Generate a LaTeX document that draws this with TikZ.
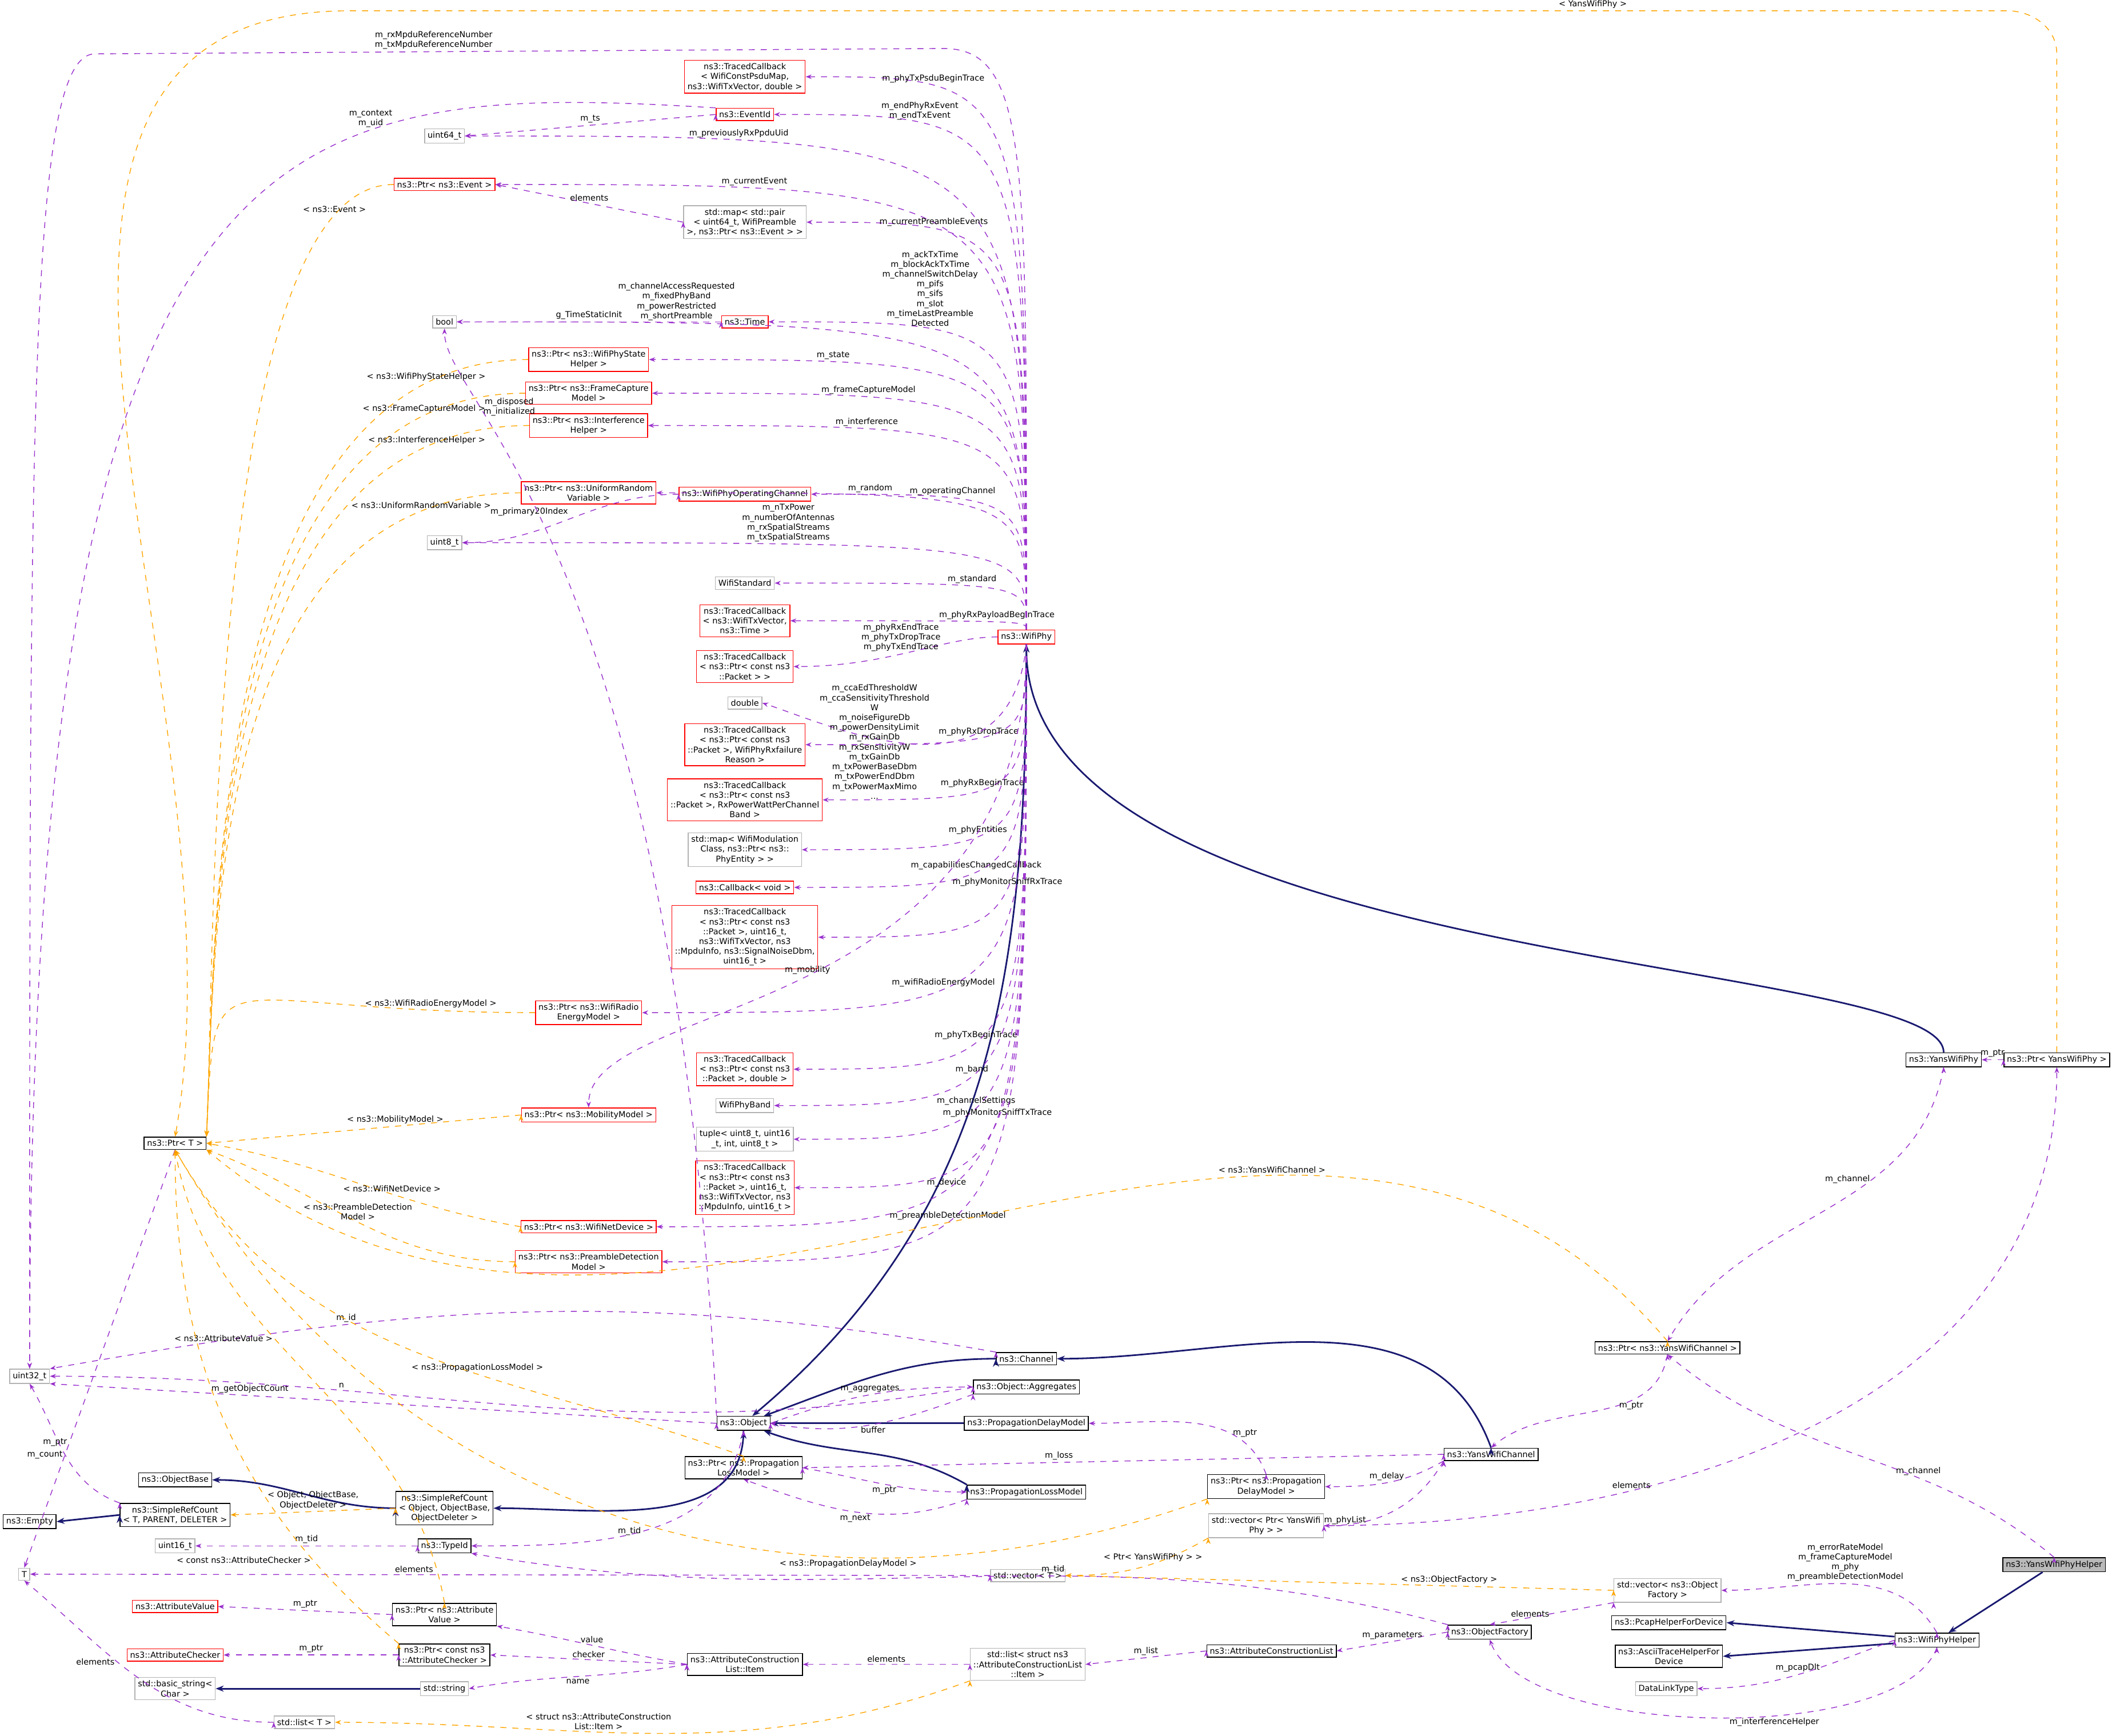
\documentclass[tikz,border=0pt]{standalone}
\usepackage{fontspec}
\setmainfont{DejaVu Sans}
\usetikzlibrary{arrows.meta,positioning,calc}
\definecolor{mbr}{HTML}{9A32CD}
\definecolor{tpl}{HTML}{FFA500}
\definecolor{inh}{HTML}{191970}
\tikzset{
  box/.style={draw=black,fill=white,inner sep=1.5pt,align=center,font=\fontsize{4.1}{4.9}\selectfont},
  redbox/.style={box,draw=red},
  graybox/.style={box,draw=gray!60},
  memb/.style={draw=mbr,dashed,-{Stealth[length=3pt]}},
  tmpl/.style={draw=tpl,dashed,-{Stealth[length=3pt]}},
  isa/.style={draw=inh,thick,-{Stealth[length=4pt]}},
  lbl/.style={font=\fontsize{4.1}{4.9}\selectfont,align=center,inner sep=1pt,text=black}
}
\begin{document}
\begin{tikzpicture}[x=0.02357cm,y=-0.02357cm]
	\useasboundingbox (0,0) rectangle (1568,1289);
	% right side
	\node[box,fill=gray!55](YWPH) at (1525,1162) {ns3::YansWifiPhyHelper};
	\node[box](WPH) at (1438,1218) {ns3::WifiPhyHelper};
	\node[box](PCAP) at (1239,1205) {ns3::PcapHelperForDevice};
	\node[box](ASCII) at (1239,1230) {ns3::AsciiTraceHelperFor\\Device};
	\node[graybox](DLT) at (1237,1254) {DataLinkType};
	\node[graybox](VOF) at (1238,1181) {std::vector< ns3::Object\\Factory >};
	\node[box](OF) at (1106,1212) {ns3::ObjectFactory};
	\node[box](ACL) at (944,1226) {ns3::AttributeConstructionList};
	\node[graybox](LIT) at (763,1236) {std::list< struct ns3\\::AttributeConstructionList\\::Item >};
	\node[box](ITEM) at (553,1236) {ns3::AttributeConstruction\\List::Item};
	\node[graybox](VT) at (763,1170) {std::vector< T >};
	\node[graybox](VYP) at (940,1133) {std::vector< Ptr< YansWifi\\Phy > >};
	\node[box](PPD) at (940,1104) {ns3::Ptr< ns3::Propagation\\DelayModel >};
	\node[box](YWC) at (1107,1080) {ns3::YansWifiChannel};
	\node[box](PYWC) at (1238,1001) {ns3::Ptr< ns3::YansWifiChannel >};
	\node[box](YWP) at (1443,787) {ns3::YansWifiPhy};
	\node[box](PYWP) at (1527,787) {ns3::Ptr< YansWifiPhy >};
	\node[redbox](WP) at (762,473) {ns3::WifiPhy};
	\node[box](CH) at (762,1009) {ns3::Channel};
	\node[box](AGG) at (762,1030) {ns3::Object::Aggregates};
	\node[box](PDM) at (762,1057) {ns3::PropagationDelayModel};
	\node[box](PLM) at (762,1108) {ns3::PropagationLossModel};
	\node[box](OBJ) at (552,1057) {ns3::Object};
	\node[box](PPL) at (552,1090) {ns3::Ptr< ns3::Propagation\\LossModel >};
	\node[box](SRO) at (330,1120) {ns3::SimpleRefCount\\< Object, ObjectBase,\\ObjectDeleter >};
	\node[box](OB) at (130,1099) {ns3::ObjectBase};
	\node[box](SRT) at (130,1125) {ns3::SimpleRefCount\\< T, PARENT, DELETER >};
	\node[box](EMP) at (22,1130) {ns3::Empty};
	\node[graybox](T) at (18,1169) {T};
	\node[graybox](U32) at (22,1022) {uint32\_t};
	\node[box](TID) at (330,1148) {ns3::TypeId};
	\node[graybox](U16) at (130,1148) {uint16\_t};
	\node[box](PAV) at (330,1199) {ns3::Ptr< ns3::Attribute\\Value >};
	\node[box](PAC) at (330,1229) {ns3::Ptr< const ns3\\::AttributeChecker >};
	\node[graybox](STR) at (330,1254) {std::string};
	\node[redbox](AV) at (130,1193) {ns3::AttributeValue};
	\node[redbox](AC) at (130,1229) {ns3::AttributeChecker};
	\node[graybox](BS) at (130,1254) {std::basic\_string<\\Char >};
	\node[graybox](LT) at (226,1279) {std::list< T >};
	\node[box](PT) at (130,849) {ns3::Ptr< T >};
	\node[graybox](U64) at (330,101) {uint64\_t};
	\node[graybox](BOOL) at (330,239) {bool};
	\node[graybox](U8) at (330,403) {uint8\_t};
	% members of the phy
	\node[redbox](TC1) at (553,57) {ns3::TracedCallback\\< WifiConstPsduMap,\\ns3::WifiTxVector, double >};
	\node[redbox](EID) at (553,85) {ns3::EventId};
	\node[redbox](PEV) at (330,137) {ns3::Ptr< ns3::Event >};
	\node[graybox](MEV) at (553,165) {std::map< std::pair\\< uint64\_t, WifiPreamble\\>, ns3::Ptr< ns3::Event > >};
	\node[redbox](TIME) at (553,239) {ns3::Time};
	\node[redbox](PSH) at (437,267) {ns3::Ptr< ns3::WifiPhyState\\Helper >};
	\node[redbox](PFC) at (437,292) {ns3::Ptr< ns3::FrameCapture\\Model >};
	\node[redbox](PIH) at (437,316) {ns3::Ptr< ns3::Interference\\Helper >};
	\node[redbox](PUR) at (437,366) {ns3::Ptr< ns3::UniformRandom\\Variable >};
	\node[redbox](WOC) at (553,367) {ns3::WifiPhyOperatingChannel};
	\node[graybox](WS) at (553,433) {WifiStandard};
	\node[redbox](TC2) at (553,461) {ns3::TracedCallback\\< ns3::WifiTxVector,\\ns3::Time >};
	\node[redbox](TC3) at (553,495) {ns3::TracedCallback\\< ns3::Ptr< const ns3\\::Packet > >};
	\node[graybox](DBL) at (553,522) {double};
	\node[redbox](TC4) at (553,553) {ns3::TracedCallback\\< ns3::Ptr< const ns3\\::Packet >, WifiPhyRxfailure\\Reason >};
	\node[redbox](TC5) at (553,594) {ns3::TracedCallback\\< ns3::Ptr< const ns3\\::Packet >, RxPowerWattPerChannel\\Band >};
	\node[graybox](MPE) at (553,631) {std::map< WifiModulation\\Class, ns3::Ptr< ns3::\\PhyEntity > >};
	\node[redbox](CB) at (553,659) {ns3::Callback< void >};
	\node[redbox](TC6) at (553,696) {ns3::TracedCallback\\< ns3::Ptr< const ns3\\::Packet >, uint16\_t,\\ns3::WifiTxVector, ns3\\::MpduInfo, ns3::SignalNoiseDbm,\\uint16\_t >};
	\node[redbox](PRE) at (437,752) {ns3::Ptr< ns3::WifiRadio\\EnergyModel >};
	\node[redbox](TC7) at (553,794) {ns3::TracedCallback\\< ns3::Ptr< const ns3\\::Packet >, double >};
	\node[redbox](PMM) at (437,828) {ns3::Ptr< ns3::MobilityModel >};
	\node[graybox](WPB) at (553,821) {WifiPhyBand};
	\node[graybox](TUP) at (553,846) {tuple< uint8\_t, uint16\\\_t, int, uint8\_t >};
	\node[redbox](TC8) at (553,882) {ns3::TracedCallback\\< ns3::Ptr< const ns3\\::Packet >, uint16\_t,\\ns3::WifiTxVector, ns3\\::MpduInfo, uint16\_t >};
	\node[redbox](PND) at (437,911) {ns3::Ptr< ns3::WifiNetDevice >};
	\node[redbox](PPDM) at (437,937) {ns3::Ptr< ns3::PreambleDetection\\Model >};
	\coordinate (topR) at (1527,40);
	\coordinate (topM) at (1490,8);
	\coordinate (topL) at (260,8);
	\coordinate (rxA) at (700,36);
	\coordinate (rxB) at (70,40);
	% inheritance
	\path[isa](YWPH) edge (WPH);
	\path[isa](WPH) edge (PCAP.east) edge (ASCII.east);
	\draw[isa](YWP.north) .. controls (1443,710) and (762,720) .. (WP.south);
	\path[isa](WP.south) edge[out=-90,in=40] (OBJ);
	\path[isa](CH.west) edge[out=180,in=20] (OBJ);
	\path[isa](YWC.north) edge[out=110,in=0] (CH.east);
	\path[isa](PDM) edge (OBJ);
	\path[isa](PLM.north west) edge[out=150,in=-20] (OBJ);
	\path[isa](OBJ.south) edge[out=-90,in=0] (SRO.east);
	\path[isa](SRO.west) edge[out=180,in=0] (OB.east);
	\path[isa](SRT.west) edge (EMP.east);
	\path[isa](STR) edge (BS);
	% members of WifiPhy
	\foreach \tgt/\txt/\ps in {
		TC1/m\_phyTxPsduBeginTrace/0.75, EID/m\_endPhyRxEvent\\m\_endTxEvent/0.75,
		U64/m\_previouslyRxPpduUid/0.8, PEV/m\_currentEvent/0.8,
		MEV/m\_currentPreambleEvents/0.75, BOOL/m\_channelAccessRequested\\m\_fixedPhyBand\\m\_powerRestricted\\m\_shortPreamble/0.85,
		TIME/m\_ackTxTime\\m\_blockAckTxTime\\m\_channelSwitchDelay\\m\_pifs\\m\_sifs\\m\_slot\\m\_timeLastPreamble\\Detected/0.72,
		PSH/m\_state/0.8, PFC/m\_frameCaptureModel/0.75, PIH/m\_interference/0.75,
		PUR/m\_random/0.75, WOC/m\_operatingChannel/0.7,
		U8/m\_nTxPower\\m\_numberOfAntennas\\m\_rxSpatialStreams\\m\_txSpatialStreams/0.75,
		WS/m\_standard/0.6, TC2/m\_phyRxPayloadBeginTrace/0.5}
		\draw[memb](WP.north) .. controls (WP.north |- \tgt.east) .. node[lbl,pos=\ps,above] {\txt} (\tgt.east);
	\draw[memb](WP.west) .. controls (700,473) and (660,495) .. node[lbl,pos=0.55,above] {m\_phyRxEndTrace\\m\_phyTxDropTrace\\m\_phyTxEndTrace} (TC3.east);
	\draw[memb](WP.north) .. controls (762,120) and (765,36) .. (rxA) -- node[lbl,pos=0.6,above] {m\_rxMpduReferenceNumber\\m\_txMpduReferenceNumber} (rxB) .. controls (22,42) and (22,300) .. (U32.north);
	\foreach \tgt/\txt/\ps in {
		TC4/m\_phyRxDropTrace/0.6, TC5/m\_phyRxBeginTrace/0.6,
		MPE/m\_phyEntities/0.6, CB/m\_capabilitiesChangedCallback/0.6,
		TC6/m\_phyMonitorSniffRxTrace/0.45, PRE/m\_wifiRadioEnergyModel/0.6,
		TC7/m\_phyTxBeginTrace/0.6, WPB/m\_band/0.6, TUP/m\_channelSettings/0.6,
		TC8/m\_phyMonitorSniffTxTrace/0.5, PND/m\_device/0.6,
		PPDM/m\_preambleDetectionModel/0.6}
		\draw[memb](WP.south) .. controls (WP.south |- \tgt.east) .. node[lbl,pos=\ps,above] {\txt} (\tgt.east);
	\draw[memb](WP.south) .. controls (750,600) and (620,540) .. node[lbl,pos=0.3,left,xshift=-22pt,yshift=-4pt] {m\_ccaEdThresholdW\\m\_ccaSensitivityThreshold\\W\\m\_noiseFigureDb\\m\_powerDensityLimit\\m\_rxGainDb\\m\_rxSensitivityW\\m\_txGainDb\\m\_txPowerBaseDbm\\m\_txPowerEndDbm\\m\_txPowerMaxMimo\\...} (DBL.east);
	\draw[memb](WP.south) .. controls (762,760) and (437,740) .. node[lbl,pos=0.5,above] {m\_mobility} (PMM.north);
	% other members
	\path[memb](EID.west) edge node[lbl,above] {m\_ts} (U64.east);
	\draw[memb](EID.north west) .. controls (200,60) and (22,80) .. node[lbl,pos=0.3,above] {m\_context\\m\_uid} (U32.north);
	\path[memb](MEV.west) edge node[lbl,above] {elements} (PEV.east);
	\path[memb](TIME.west) edge node[lbl,above] {g\_TimeStaticInit} (BOOL.east);
	\path[memb](WOC.west) edge[out=180,in=0] node[lbl,above left,pos=0.5] {m\_primary20Index} (U8.east);
	\draw[memb](OBJ.north west) .. controls (500,400) and (330,300) .. node[lbl,pos=0.75,right] {m\_disposed\\m\_initialized} (BOOL.south);
	\path[memb](OBJ.west) edge node[lbl,above,pos=0.7] {m\_getObjectCount} (U32.south east);
	\path[memb](OBJ.east) edge[out=20,in=180] node[lbl,above] {m\_aggregates} (AGG.west);
	\path[memb](AGG.south west) edge[out=200,in=-10] node[lbl,below] {buffer} (OBJ.east);
	\path[memb](AGG.west) edge[out=190,in=0] node[lbl,above,pos=0.7] {n} (U32.east);
	\path[memb](CH.north west) edge[out=170,in=10] node[lbl,above,pos=0.7] {m\_id} (U32.north east);
	\path[memb](OBJ.south) edge[out=-100,in=0] node[lbl,left,pos=0.5] {m\_tid} (TID.east);
	\path[memb](SRT.north west) edge[out=160,in=-60] node[lbl,left] {m\_count} (U32.south);
	\path[memb](TID.west) edge node[lbl,above] {m\_tid} (U16.east);
	\path[memb](PT.south) edge node[lbl,left,pos=0.7] {m\_ptr} (T.north);
	\path[memb](VT.west) edge node[lbl,above,pos=0.6] {elements} (T.east);
	\path[memb](LT.west) edge[out=180,in=-40] node[lbl,left,pos=0.6] {elements} (T.south);
	\path[memb](PAV.west) edge node[lbl,above] {m\_ptr} (AV.east);
	\path[memb](PAC.west) edge node[lbl,above] {m\_ptr} (AC.east);
	\path[memb](ITEM.west) edge[out=170,in=-10] node[lbl,above] {value} (PAV.south east);
	\path[memb](ITEM.west) edge node[lbl,above] {checker} (PAC.east);
	\path[memb](ITEM.west) edge[out=190,in=10] node[lbl,below] {name} (STR.east);
	\path[memb](LIT.west) edge node[lbl,above] {elements} (ITEM.east);
	\path[memb](ACL.west) edge node[lbl,above] {m\_list} (LIT.east);
	\path[memb](OF.west) edge node[lbl,above] {m\_parameters} (ACL.east);
	\path[memb](OF.north west) edge[out=165,in=-10] node[lbl,above,pos=0.4] {m\_tid} (TID.south east);
	\path[memb](VOF.south west) edge node[lbl,left] {elements} (OF.north);
	\path[memb](WPH.north) edge[out=120,in=0] node[lbl,above,pos=0.5] {m\_errorRateModel\\m\_frameCaptureModel\\m\_phy\\m\_preambleDetectionModel} (VOF.east);
	\path[memb](WPH.west) edge[out=200,in=0] node[lbl,above] {m\_pcapDlt} (DLT.east);
	\path[memb](WPH.south) edge[out=-110,in=-70,looseness=0.6] node[lbl,below,pos=0.4] {m\_interferenceHelper} (OF.south);
	\path[memb](YWPH.north) edge[out=140,in=-40] node[lbl,above,pos=0.35] {m\_channel} (PYWC.south);
	\path[memb](YWP.south) edge[out=-100,in=60] node[lbl,pos=0.35,left] {m\_channel} (PYWC.north);
	\path[memb](PYWP.west) edge node[lbl,above] {m\_ptr} (YWP.east);
	\path[memb](PYWC.south) edge[out=-100,in=40] node[lbl,right,pos=0.4] {m\_ptr} (YWC.north);
	\path[memb](YWC.south west) edge[out=-150,in=0] node[lbl,above] {m\_delay} (PPD.east);
	\path[memb](YWC.south west) edge[out=-120,in=0] node[lbl,left,pos=0.7] {m\_phyList} (VYP.east);
	\path[memb](YWC.west) edge node[lbl,above,pos=0.6] {m\_loss} (PPL.east);
	\path[memb](VYP.east) edge[out=0,in=-90] node[lbl,above,pos=0.3] {elements} (PYWP.south);
	\path[memb](PPD.north) edge[out=110,in=0] node[lbl,right,pos=0.3] {m\_ptr} (PDM.east);
	\path[memb](PPL.east) edge[out=-10,in=180] node[lbl,below] {m\_ptr} (PLM.west);
	\path[memb](PLM.south west) edge[out=200,in=-20] node[lbl,below] {m\_next} (PPL.south);
	% template instances
	\foreach \src/\txt in {PEV/< ns3::Event >, PSH/< ns3::WifiPhyStateHelper >,
		PFC/< ns3::FrameCaptureModel >, PIH/< ns3::InterferenceHelper >,
		PUR/< ns3::UniformRandomVariable >, PRE/< ns3::WifiRadioEnergyModel >}
		\draw[tmpl](\src.west) .. controls (\src.west -| PT.north east) and (160,700) .. node[lbl,above,pos=0.12] {\txt} (PT.north east);
	\path[tmpl](PMM.west) edge node[lbl,above,pos=0.4] {< ns3::MobilityModel >} (PT.east);
	\path[tmpl](PND.west) edge[out=170,in=-10] node[lbl,above,pos=0.4] {< ns3::WifiNetDevice >} (PT.east);
	\path[tmpl](PPDM.west) edge[out=180,in=-20] node[lbl,above,pos=0.5] {< ns3::PreambleDetection\\Model >} (PT.south east);
	\path[tmpl](PYWC.north) edge[out=130,in=-40] node[lbl,above,pos=0.3] {< ns3::YansWifiChannel >} (PT.south east);
	\path[tmpl](PPL.north) edge[out=160,in=-60] node[lbl,above,pos=0.4] {< ns3::PropagationLossModel >} (PT.south);
	\path[tmpl](PAV.north) edge[out=100,in=-80] node[lbl,left,pos=0.6] {< ns3::AttributeValue >} (PT.south);
	\path[tmpl](PAC.north west) edge[out=140,in=-90] node[lbl,left,pos=0.2] {< const ns3::AttributeChecker >} (PT.south);
	\path[tmpl](PPD.south west) edge[out=200,in=-60] node[lbl,below,pos=0.3] {< ns3::PropagationDelayModel >} (PT.south);
	\draw[tmpl](PYWP.north) -- (topR) to[out=90,in=0] (topM) -- node[lbl,above,pos=0.25] {< YansWifiPhy >} (topL) to[out=180,in=80] (PT.north);
	\path[tmpl](SRO.west) edge node[lbl,above] {< Object, ObjectBase,\\ObjectDeleter >} (SRT.east);
	\path[tmpl](VYP.south west) edge[out=-150,in=0] node[lbl,above,pos=0.4] {< Ptr< YansWifiPhy > >} (VT.east);
	\path[tmpl](VOF.west) edge node[lbl,above,pos=0.3] {< ns3::ObjectFactory >} (VT.east);
	\path[tmpl](LIT.south west) edge[out=-160,in=0] node[lbl,above,pos=0.6] {< struct ns3::AttributeConstruction\\List::Item >} (LT.east);
\end{tikzpicture}
\end{document}
